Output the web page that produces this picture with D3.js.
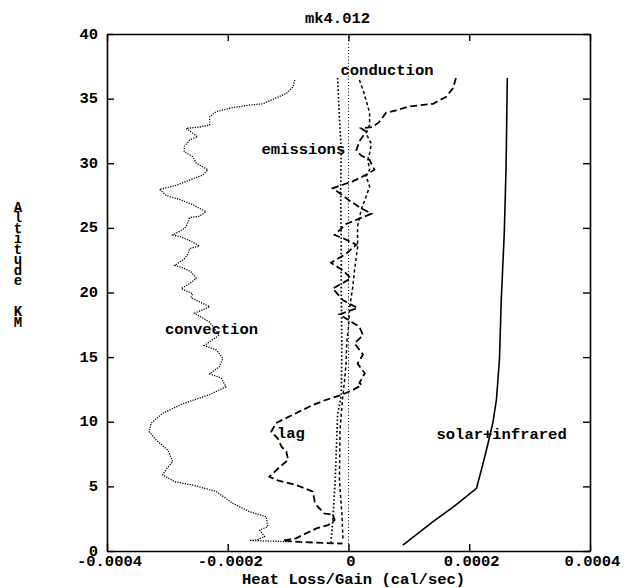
<!DOCTYPE html>
<html>
<head>
<meta charset="utf-8">
<script src="https://cdn.jsdelivr.net/npm/d3@7"></script>
<style>
  html, body { margin: 0; padding: 0; background: #fff; }
  svg text { font-family: "Liberation Mono", "DejaVu Sans Mono", monospace; font-weight: bold; fill: #000; }
  .y-title { writing-mode: vertical-rl; text-orientation: upright; letter-spacing: -5.56px; }
</style>
</head>
<body>
<svg id="chart" width="632" height="588"></svg>
<script>
// Heat budget terms of balloon flight mk4.012, [altitude km, heat loss/gain cal/sec]
const convection = [
  [36.44,-0.89e-4],[35.9,-0.92e-4],[35.4,-1.03e-4],[34.95,-1.25e-4],[34.6,-1.42e-4],[34.5,-1.64e-4],
  [34.3,-1.92e-4],[34.0,-2.19e-4],[33.6,-2.30e-4],[32.96,-2.30e-4],[32.8,-2.47e-4],[32.7,-2.69e-4],
  [32.06,-2.50e-4],[31.8,-2.63e-4],[31.3,-2.72e-4],[30.9,-2.72e-4],[30.5,-2.58e-4],[30.0,-2.52e-4],
  [29.5,-2.33e-4],[29.1,-2.41e-4],[28.7,-2.63e-4],[28.3,-2.85e-4],[27.98,-3.13e-4],[27.5,-3.02e-4],
  [27.2,-2.80e-4],[26.8,-2.58e-4],[26.25,-2.36e-4],[25.9,-2.47e-4],[25.8,-2.63e-4],[25.1,-2.69e-4],
  [24.8,-2.77e-4],[24.45,-2.91e-4],[24.3,-2.77e-4],[23.9,-2.58e-4],[23.6,-2.47e-4],[23.4,-2.63e-4],
  [23.0,-2.66e-4],[22.6,-2.72e-4],[22.1,-2.88e-4],[21.9,-2.74e-4],[21.6,-2.61e-4],[21.1,-2.52e-4],
  [20.7,-2.63e-4],[20.3,-2.77e-4],[19.9,-2.58e-4],[19.6,-2.61e-4],[18.9,-2.30e-4],[18.4,-2.55e-4],
  [17.7,-2.30e-4],[16.7,-2.14e-4],[15.9,-2.39e-4],[15.55,-2.19e-4],[14.9,-2.08e-4],[14.26,-2.14e-4],
  [13.7,-2.30e-4],[13.4,-2.11e-4],[12.7,-2.03e-4],[12.1,-2.30e-4],[11.4,-2.74e-4],[10.65,-3.08e-4],
  [9.88,-3.27e-4],[9.23,-3.30e-4],[8.6,-3.19e-4],[7.8,-2.99e-4],[6.9,-2.91e-4],[6.5,-2.99e-4],
  [5.9,-3.08e-4],[5.36,-2.88e-4],[5.1,-2.58e-4],[4.6,-2.19e-4],[3.7,-1.92e-4],[3.04,-1.64e-4],
  [2.65,-1.36e-4],[1.88,-1.34e-4],[1.62,-1.47e-4],[1.1,-1.39e-4],[0.85,-1.53e-4],[0.82,-1.64e-4],
  [0.76,-1.25e-4],[0.72,-0.95e-4]
];
const emissions = [
  [36.6,-0.18e-4],[33.5,-0.15e-4],[31.0,-0.12e-4],[28.0,-0.13e-4],[24.0,-0.12e-4],[20.0,-0.12e-4],
  [16.0,-0.11e-4],[12.0,-0.12e-4],[10.6,-0.18e-4],[8.0,-0.20e-4],[5.5,-0.22e-4],[2.4,-0.26e-4],
  [0.72,-0.29e-4]
];
const conduction = [
  [36.44,0.18e-4],[35.7,0.24e-4],[34.9,0.29e-4],[33.9,0.35e-4],[32.96,0.35e-4],[32.3,0.29e-4],
  [31.5,0.38e-4],[30.8,0.35e-4],[30.25,0.32e-4],[29.5,0.35e-4],[29.0,0.29e-4],[28.2,0.35e-4],
  [27.4,0.29e-4],[26.4,0.21e-4],[25.1,0.15e-4],[23.5,0.15e-4],[21.7,0.10e-4],[20.4,0.07e-4],
  [18.9,0.02e-4],[17.35,0.0],[16.1,-0.03e-4],[14.5,-0.04e-4],[13.0,-0.07e-4],[11.7,-0.10e-4],
  [9.4,-0.14e-4],[5.5,-0.15e-4],[2.9,-0.11e-4],[0.85,-0.09e-4]
];
const lag = [
  [36.6,1.78e-4],[35.8,1.73e-4],[35.15,1.62e-4],[34.6,1.40e-4],[34.4,1.01e-4],[34.1,0.79e-4],
  [33.9,0.62e-4],[33.2,0.51e-4],[32.8,0.40e-4],[32.7,0.21e-4],[32.45,0.29e-4],[31.7,0.18e-4],
  [31.0,0.13e-4],[30.6,0.21e-4],[30.25,0.35e-4],[29.5,0.43e-4],[29.1,0.29e-4],[28.6,0.07e-4],
  [28.3,-0.12e-4],[28.06,-0.26e-4],[27.7,-0.15e-4],[27.2,-0.01e-4],[26.6,0.18e-4],[26.1,0.38e-4],
  [25.3,-0.04e-4],[24.45,-0.23e-4],[24.2,-0.09e-4],[23.7,0.13e-4],[23.0,-0.04e-4],[22.3,-0.29e-4],
  [21.7,-0.09e-4],[21.1,0.04e-4],[20.3,-0.26e-4],[19.4,-0.09e-4],[18.8,0.15e-4],[18.3,-0.15e-4],
  [17.35,0.18e-4],[16.7,0.24e-4],[16.07,0.10e-4],[15.2,0.24e-4],[14.5,0.15e-4],[13.75,0.27e-4],
  [13.0,0.18e-4],[12.85,0.22e-4],[12.45,0.07e-4],[12.07,-0.12e-4],[11.7,-0.37e-4],[11.3,-0.59e-4],
  [10.8,-0.81e-4],[9.9,-1.20e-4],[9.23,-1.28e-4],[8.7,-1.17e-4],[8.07,-1.11e-4],[7.7,-1.03e-4],
  [7.04,-1.00e-4],[6.5,-1.14e-4],[5.75,-1.31e-4],[5.5,-1.20e-4],[5.1,-0.87e-4],[4.6,-0.59e-4],
  [3.8,-0.56e-4],[3.43,-0.51e-4],[2.9,-0.40e-4],[2.8,-0.26e-4],[2.4,-0.23e-4],[2.0,-0.34e-4],
  [1.75,-0.53e-4],[1.37,-0.70e-4],[0.98,-0.87e-4],[0.81,-1.09e-4],[0.7,-0.81e-4],[0.62,-0.40e-4],
  [0.58,-0.10e-4]
];
const solarInfrared = [
  [36.6,2.63e-4],[29.7,2.61e-4],[24.6,2.58e-4],[19.4,2.53e-4],[14.8,2.50e-4],[11.7,2.45e-4],
  [9.9,2.39e-4],[8.3,2.31e-4],[6.8,2.23e-4],[4.85,2.12e-4],[3.56,1.78e-4],[2.27,1.40e-4],
  [0.46,0.90e-4]
];
const zeroLine = [[40,0],[0,0]];

const xTicks = [-0.0004, -0.0002, 0, 0.0002, 0.0004];
const xTickLabels = ["-0.0004", "-0.0002", "0", "0.0002", "0.0004"];
const yTicks = [0, 5, 10, 15, 20, 25, 30, 35, 40];
const yTitle = "Altitude  KM";

const svg = d3.select("#chart");
const margin = {left: 107, right: 42, top: 34, bottom: 37};
const W = 632, H = 588;
const x = d3.scaleLinear().domain([-0.0004, 0.0004]).range([margin.left, W - margin.right]);
const y = d3.scaleLinear().domain([0, 40]).range([H - margin.bottom, margin.top]);

// Curves
const line = d3.line().x(d => x(d[1])).y(d => y(d[0]));
const series = [
  {data: zeroLine,     dash: "1,2.2",     w: 1.1},
  {data: convection,   dash: "1.2,1.3",   w: 1.3},
  {data: emissions,    dash: "1.6,2.2",   w: 1.7},
  {data: conduction,   dash: "3.2,2.6",   w: 1.5},
  {data: lag,          dash: "7,3.5",     w: 1.8},
  {data: solarInfrared,dash: null,        w: 1.6}
];
svg.append("g").selectAll("path").data(series).join("path")
  .attr("d", d => line(d.data))
  .attr("fill", "none")
  .attr("stroke", "#000")
  .attr("stroke-width", d => d.w)
  .attr("stroke-dasharray", d => d.dash);

// Frame with inward ticks
const fmt = d => xTickLabels[xTicks.indexOf(d)];
const axes = svg.append("g");
axes.append("g").attr("class", "x-bottom").attr("transform", `translate(0,${y(0)})`)
  .call(d3.axisBottom(x).tickValues(xTicks).tickFormat(fmt).tickSizeInner(-7).tickSizeOuter(0).tickPadding(4.4));
axes.append("g").attr("transform", `translate(0,${y(40)})`)
  .call(d3.axisTop(x).tickValues(xTicks).tickFormat("").tickSizeInner(-7).tickSizeOuter(0));
axes.append("g").attr("class", "y-left").attr("transform", `translate(${x(-0.0004)},0)`)
  .call(d3.axisLeft(y).tickValues(yTicks).tickSizeInner(-7).tickSizeOuter(0).tickPadding(9));
axes.append("g").attr("transform", `translate(${x(0.0004)},0)`)
  .call(d3.axisRight(y).tickValues(yTicks).tickFormat("").tickSizeInner(-7).tickSizeOuter(0));
axes.selectAll(".domain").attr("stroke", "#000").attr("stroke-width", 1.6);
axes.selectAll(".tick line").attr("stroke", "#000").attr("stroke-width", 1.4);
axes.selectAll(".tick text")
  .style("font-family", "'Liberation Mono', monospace")
  .style("font-weight", "bold")
  .style("font-size", "15.5px")
  .attr("fill", "#000");
axes.selectAll(".x-bottom .tick text").attr("dx", 2);
axes.selectAll(".y-left .tick text").attr("dy", "0.26em");

// Titles and curve labels
const txt = (s, tx, ty, anchor) => svg.append("text")
  .attr("x", tx).attr("y", ty)
  .attr("text-anchor", anchor || "start")
  .style("font-size", "15.5px")
  .text(s);

txt("mk4.012", 337.5, 22.5, "middle");
txt("Heat Loss/Gain (cal/sec)", 353.5, 584, "middle");

// Stacked upright axis title
svg.append("text")
  .attr("class", "y-title")
  .attr("x", 18).attr("y", 200)
  .style("font-size", "14px")
  .style("white-space", "pre")
  .text(yTitle);

txt("conduction", 340.5, 75);
txt("emissions", 261.5, 154);
txt("convection", 165, 334);
txt("lag", 277, 438);
txt("solar+infrared", 436.5, 439);
</script>
</body>
</html>
